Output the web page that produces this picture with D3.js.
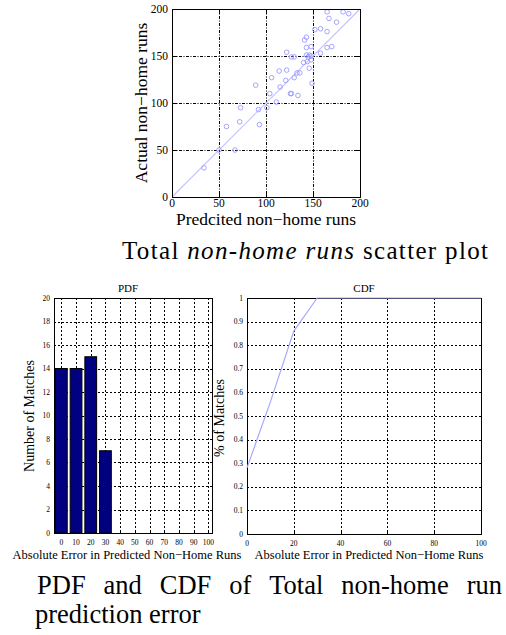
<!DOCTYPE html>
<html>
<head>
<meta charset="utf-8">
<script src="https://cdn.jsdelivr.net/npm/d3@7"></script>
<style>
  html, body { margin: 0; padding: 0; background: #fff; }
  svg { display: block; }
  text { font-family: "Liberation Serif", "Times New Roman", serif; fill: #000; }
</style>
</head>
<body>
<svg id="chart" width="506" height="635"></svg>
<script>
// scatter: predicted vs actual non-home runs
const predicted = [34, 50, 67, 58, 72, 73, 89, 92, 93, 101, 104, 106, 111, 115, 114, 122, 122, 121, 126, 127,
                   127, 130, 130, 134, 133, 136, 140, 141, 143, 143, 143, 145, 144, 146, 148, 148, 148, 149, 152, 158,
                   158, 165, 165, 165, 167, 170, 175, 182, 188, 146];
const actual    = [31, 50, 50, 75, 80, 95, 119, 93, 77, 95, 110, 127, 101, 117, 134, 154, 135, 124, 110, 110,
                   149, 149, 127, 108, 132, 132, 143, 167, 170, 159, 151, 149, 144, 137, 150, 146, 160, 121, 178, 179,
                   153, 159, 176, 197, 190, 160, 186, 197, 195, 151];
const scatterTicks = [0, 50, 100, 150, 200];

// PDF: number of matches per error bin
const errorBins = [0, 10, 20, 30, 40, 50, 60, 70, 80, 90, 100];
const matchCounts = [14, 14, 15, 7, 0, 0, 0, 0, 0, 0, 0];
const pdfYTicks = [0, 2, 4, 6, 8, 10, 12, 14, 16, 18, 20];

// CDF
const cdfX = [0, 10, 20, 30, 40, 50, 60, 70, 80, 90, 100];
const cdfY = [0.28, 0.56, 0.86, 1, 1, 1, 1, 1, 1, 1, 1];
const cdfXTicks = [0, 20, 40, 60, 80, 100];
const cdfYTicks = [0, 0.1, 0.2, 0.3, 0.4, 0.5, 0.6, 0.7, 0.8, 0.9, 1];

const SERIF = '"Liberation Serif", "Times New Roman", serif';

const svg = d3.select('#chart');
svg.append('rect').attr('width', 506).attr('height', 635).attr('fill', '#fff');

// matlab-ish axes box: dotted grid, frame, inward ticks all round
function drawFrame(g, x, y, xTicks, yTicks, opt) {
    const [x0, x1] = x.range();
    const [y0, y1] = y.range(); // y0 bottom, y1 top
    const tl = opt.tickLen || 4;

    g.append('g').selectAll('line.vg').data(xTicks).join('line')
        .attr('x1', d => Math.round(x(d)) + 0.5).attr('x2', d => Math.round(x(d)) + 0.5)
        .attr('y1', y1).attr('y2', y0)
        .attr('stroke', '#000').attr('stroke-width', 1).attr('stroke-dasharray', opt.dash || '2,2');
    g.append('g').selectAll('line.hg').data(yTicks).join('line')
        .attr('y1', d => Math.round(y(d)) + 0.5).attr('y2', d => Math.round(y(d)) + 0.5)
        .attr('x1', x0).attr('x2', x1)
        .attr('stroke', '#000').attr('stroke-width', 1).attr('stroke-dasharray', opt.dash || '2,2');

    const tk = g.append('g').attr('stroke', '#000').attr('stroke-width', 1);
    xTicks.forEach(d => {
        const px = Math.round(x(d)) + 0.5;
        tk.append('line').attr('x1', px).attr('x2', px).attr('y1', y0).attr('y2', y0 - tl);
        tk.append('line').attr('x1', px).attr('x2', px).attr('y1', y1).attr('y2', y1 + tl);
    });
    yTicks.forEach(d => {
        const py = Math.round(y(d)) + 0.5;
        tk.append('line').attr('y1', py).attr('y2', py).attr('x1', x0).attr('x2', x0 + tl);
        tk.append('line').attr('y1', py).attr('y2', py).attr('x1', x1).attr('x2', x1 - tl);
    });

    g.append('g').selectAll('text').data(xTicks).join('text')
        .attr('x', d => x(d)).attr('y', y0 + opt.xLabOff)
        .attr('text-anchor', 'middle').style('font-size', opt.tickSize + 'px')
        .text(opt.xFmt || (d => d));
    g.append('g').selectAll('text').data(yTicks).join('text')
        .attr('x', x0 - opt.yLabOff).attr('y', d => y(d)).attr('dy', '0.35em')
        .attr('text-anchor', 'end').style('font-size', opt.tickSize + 'px')
        .text(opt.yFmt || (d => d));
}

function drawBox(g, x, y) {
    const [x0, x1] = x.range();
    const [y0, y1] = y.range();
    g.append('rect')
        .attr('x', x0 + 0.5).attr('y', y1 + 0.5)
        .attr('width', x1 - x0).attr('height', y0 - y1)
        .attr('fill', 'none').attr('stroke', '#000').attr('stroke-width', 1);
}

// ---------- scatter plot ----------
const sx = d3.scaleLinear().domain([0, 200]).range([172, 360]);
const sy = d3.scaleLinear().domain([0, 200]).range([197, 9]);
const gs = svg.append('g');
drawFrame(gs, sx, sy, scatterTicks, scatterTicks, { tickSize: 11.5, xLabOff: 10, yLabOff: 4, tickLen: 5, dash: '3,1.5,1,1.5' });

gs.append('line')
    .attr('x1', sx(0)).attr('y1', sy(0)).attr('x2', sx(200)).attr('y2', sy(200))
    .attr('stroke', '#c4c4ff').attr('stroke-width', 1.2);

gs.append('g').selectAll('circle').data(predicted).join('circle')
    .attr('cx', (d, i) => sx(d)).attr('cy', (d, i) => sy(actual[i]))
    .attr('r', 2.3)
    .attr('fill', 'none').attr('stroke', '#9a9aff').attr('stroke-width', 0.9);
drawBox(gs, sx, sy);

gs.append('text').attr('x', 266).attr('y', 225).attr('text-anchor', 'middle')
    .style('font-size', '17.5px').text('Predcited non\u2212home runs');
gs.append('text').attr('transform', 'translate(147,103) rotate(-90)').attr('text-anchor', 'middle')
    .style('font-size', '17.5px').text('Actual non\u2212home runs');

// caption 1
const cap1 = svg.append('text').attr('x', 122).attr('y', 259)
    .attr('textLength', 366).attr('lengthAdjust', 'spacing')
    .style('font-family', SERIF).style('font-size', '25px');
cap1.append('tspan').text('Total ');
cap1.append('tspan').style('font-style', 'italic').text('non-home runs');
cap1.append('tspan').text(' scatter plot');

// ---------- PDF ----------
const px = d3.scaleLinear().domain([-5, 102.5]).range([54, 212]);
const py = d3.scaleLinear().domain([0, 20]).range([533, 298]);
const gp = svg.append('g');
drawFrame(gp, px, py, errorBins, pdfYTicks, { tickSize: 7.5, xLabOff: 12, yLabOff: 4, tickLen: 2 });

const barW = px(8) - px(0);
gp.append('g').selectAll('rect').data(matchCounts).join('rect')
    .attr('x', (d, i) => px(errorBins[i]) - barW / 2)
    .attr('y', d => py(d))
    .attr('width', barW)
    .attr('height', d => py(0) - py(d))
    .attr('fill', '#000080').attr('stroke', '#000').attr('stroke-width', 1);
drawBox(gp, px, py);

gp.append('text').attr('x', 128).attr('y', 292).attr('text-anchor', 'middle')
    .style('font-size', '11px').text('PDF');
gp.append('text').attr('x', 127).attr('y', 559).attr('text-anchor', 'middle')
    .style('font-size', '12.5px').text('Absolute Error in Predicted Non\u2212Home Runs');
gp.append('text').attr('transform', 'translate(34,416) rotate(-90)').attr('text-anchor', 'middle')
    .style('font-size', '14px').text('Number of Matches');

// ---------- CDF ----------
const cx = d3.scaleLinear().domain([0, 100]).range([247, 481]);
const cy = d3.scaleLinear().domain([0, 1]).range([534, 298]);
const gc = svg.append('g');
drawFrame(gc, cx, cy, cdfXTicks, cdfYTicks, { tickSize: 7.5, xLabOff: 12, yLabOff: 4, tickLen: 2 });
drawBox(gc, cx, cy);

gc.append('path')
    .datum(cdfX)
    .attr('fill', 'none').attr('stroke', '#a8a8ff').attr('stroke-width', 1.2)
    .attr('d', d3.line().x(d => cx(d)).y((d, i) => cy(cdfY[i])));

gc.append('text').attr('x', 364).attr('y', 292).attr('text-anchor', 'middle')
    .style('font-size', '11px').text('CDF');
gc.append('text').attr('x', 369).attr('y', 559).attr('text-anchor', 'middle')
    .style('font-size', '12.5px').text('Absolute Error in Predicted Non\u2212Home Runs');
gc.append('text').attr('transform', 'translate(224,418) rotate(-90)').attr('text-anchor', 'middle')
    .style('font-size', '14px').text('% of Matches');

// caption 2, first line justified
const words = ['PDF', 'and', 'CDF', 'of', 'Total', 'non-home', 'run'];
const cap2 = svg.append('g').style('font-family', SERIF).style('font-size', '26.5px');
const wEls = words.map(w => cap2.append('text').attr('y', 594).text(w));
const widths = wEls.map(t => t.node().getComputedTextLength());
const left = 37, right = 502;
const gap = (right - left - d3.sum(widths)) / (words.length - 1);
let cur = left;
wEls.forEach((t, i) => { t.attr('x', cur); cur += widths[i] + gap; });
cap2.append('text').attr('x', 35).attr('y', 623).text('prediction error');
</script>
</body>
</html>
